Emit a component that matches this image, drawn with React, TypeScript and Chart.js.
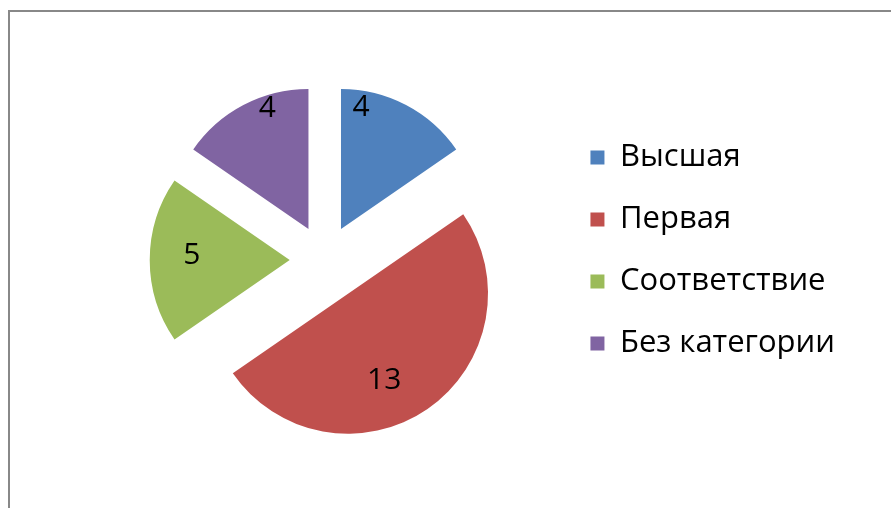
import React, { useEffect, useRef } from 'react';
import { Chart, registerables } from 'chart.js';

Chart.register(...registerables);

const categories = ['Высшая', 'Первая', 'Соответствие', 'Без категории'];
const values = [4, 13, 5, 4];
const colors = ['#4F81BD', '#C0504D', '#9BBB59', '#8064A2'];

const FONT = "'Open Sans', 'Noto Sans', sans-serif";
// how far each slice is pulled out of the pie (px)
const explode = [35, 41, 35, 35];
// label placement inside each slice: t = fraction of the slice's angle, r = fraction of radius
const labelPlacement = [
  { t: 0.17, r: 0.88 },
  { t: 0.566, r: 0.67 },
  { t: 0.54, r: 0.7 },
  { t: 0.66, r: 0.91 },
];

// move each arc element outward along its mid-angle (exploded pie)
const explodePlugin = {
  id: 'explodePlugin',
  afterDatasetsUpdate(chart: any) {
    const meta = chart.getDatasetMeta(0);
    meta.data.forEach((arc: any, i: number) => {
      const mid = (arc.startAngle + arc.endAngle) / 2;
      arc.x = arc.x + Math.cos(mid) * explode[i];
      arc.y = arc.y + Math.sin(mid) * explode[i];
    });
  },
};

const dataLabels = {
  id: 'dataLabels',
  afterDatasetsDraw(chart: any) {
    const ctx = chart.ctx;
    const meta = chart.getDatasetMeta(0);
    const ds = chart.data.datasets[0];
    ctx.save();
    ctx.font = `30px ${FONT}`;
    ctx.fillStyle = '#000';
    ctx.textAlign = 'center';
    ctx.textBaseline = 'middle';
    meta.data.forEach((arc: any, i: number) => {
      const { x, y, startAngle, endAngle, outerRadius } = arc;
      const p = labelPlacement[i];
      const a = startAngle + p.t * (endAngle - startAngle);
      const px = x + Math.cos(a) * p.r * outerRadius;
      const py = y + Math.sin(a) * p.r * outerRadius;
      ctx.fillText(String(ds.data[i]), px, py);
    });
    ctx.restore();
  },
};

export default function App() {
  const ref = useRef<HTMLCanvasElement>(null);

  useEffect(() => {
    if (!ref.current) return;
    const chart = new Chart(ref.current, {
      type: 'pie',
      data: {
        labels: categories,
        datasets: [
          {
            data: values,
            backgroundColor: colors,
            borderWidth: 0,
            radius: 140,
          } as any,
        ],
      },
      options: {
        responsive: false,
        animation: false,
        events: [],
        radius: 140,
        layout: { padding: { left: 90, right: 46, top: 111, bottom: 99 } },
        plugins: {
          legend: {
            position: 'right',
            align: 'start',
            labels: {
              boxWidth: 14,
              boxHeight: 14,
              padding: 31,
              color: '#000',
              font: { size: 31, family: FONT },
            },
          },
          tooltip: { enabled: false },
        },
      } as any,
      plugins: [explodePlugin, dataLabels],
    });
    return () => chart.destroy();
  }, []);

  return (
    <div style={{ position: 'absolute', left: 0, top: 0, width: 891, height: 508, overflow: 'hidden', background: '#fff' }}>
      <div
        style={{
          position: 'absolute',
          left: 8,
          top: 10,
          width: 900,
          height: 520,
          border: '2px solid #888888',
          boxSizing: 'border-box',
        }}
      />
      <canvas ref={ref} width={891} height={508} style={{ position: 'absolute', left: 0, top: 0 }} />
    </div>
  );
}
